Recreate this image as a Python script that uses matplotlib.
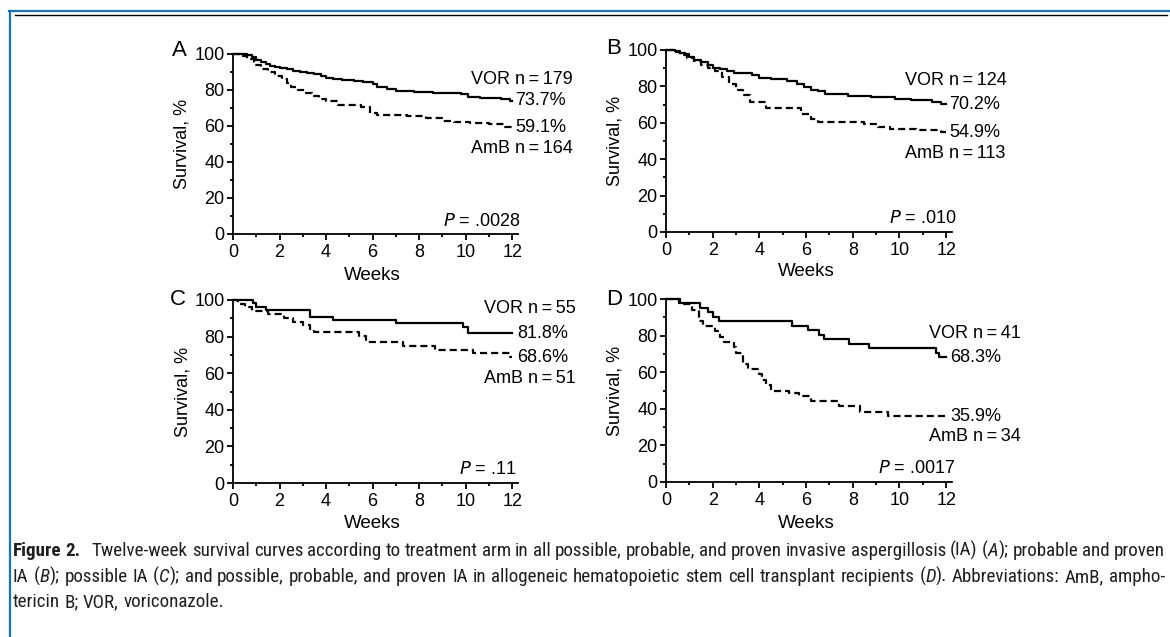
import matplotlib
matplotlib.use("Agg")
import matplotlib.pyplot as plt
from matplotlib import font_manager as fm
from matplotlib.lines import Line2D
from matplotlib.ticker import MultipleLocator
from matplotlib.transforms import IdentityTransform

W, H, DPI = 1170, 637, 100

# ---------------- data ----------------
panel_letters = ["A", "B", "C", "D"]
week_ticks = [0, 2, 4, 6, 8, 10, 12]
surv_ticks = [0, 20, 40, 60, 80, 100]
follow_up_end = 12

a_vor_t = [0, 0.6, 0.8, 1.0, 1.2, 1.4, 1.6, 1.8, 2.0, 2.3, 2.6, 2.9, 3.2, 3.5, 3.8, 4.0,
           4.3, 4.7, 5.2, 5.6, 6.0, 6.2, 6.6, 7.0, 7.8, 8.6, 9.8, 10.1, 10.6, 11.5, 11.9]
a_vor_s = [100, 99.4, 98.3, 96.6, 95.5, 94.4, 93.3, 92.7, 92.2, 91.6, 90.5, 89.9, 89.4, 88.8,
           87.7, 86.6, 86.0, 85.5, 84.9, 84.4, 83.2, 81.6, 80.4, 79.3, 78.8, 78.2, 77.6, 76.0,
           75.4, 74.9, 73.7]
a_amb_t = [0, 0.3, 0.6, 0.9, 1.2, 1.5, 1.8, 2.1, 2.3, 2.5, 2.8, 3.1, 3.4, 3.7, 4.0, 4.5,
           5.5, 5.9, 6.2, 7.5, 8.3, 9.0, 9.5, 10.2, 11.0, 11.7]
a_amb_s = [100, 98.8, 97.0, 93.9, 91.5, 89.6, 87.8, 86.0, 83.5, 81.7, 79.9, 78.0, 76.2, 75.0,
           73.8, 71.3, 70.1, 67.1, 65.9, 65.2, 64.0, 62.8, 62.2, 61.6, 61.0, 59.1]

b_vor_t = [0, 0.4, 0.6, 0.8, 1.0, 1.2, 1.5, 1.8, 2.0, 2.3, 2.6, 2.9, 3.7, 4.0, 4.5, 5.2,
           5.6, 5.9, 6.2, 6.5, 6.8, 7.8, 8.8, 9.8, 10.5, 11.4, 11.8]
b_vor_s = [100, 99.2, 98.4, 97.6, 96.0, 94.4, 93.5, 91.9, 90.3, 89.5, 88.7, 87.1, 86.3, 84.7,
           83.9, 83.1, 81.5, 79.8, 78.2, 77.4, 75.8, 74.9, 74.1, 73.3, 72.5, 71.7, 70.2]
b_amb_t = [0, 0.3, 0.6, 0.9, 1.2, 1.5, 1.8, 2.1, 2.4, 2.7, 3.0, 3.3, 3.6, 4.3, 5.8, 6.2,
           6.5, 8.5, 9.1, 9.6, 10.7, 11.8]
b_amb_s = [100, 99.1, 97.3, 95.5, 93.8, 92.0, 90.2, 88.5, 85.0, 81.4, 77.9, 75.2, 71.7, 68.1,
           64.6, 61.9, 60.2, 59.3, 57.5, 56.6, 55.8, 54.9]

c_vor_t = [0, 0.85, 1.0, 1.4, 3.3, 4.3, 7.0, 9.9, 10.1]
c_vor_s = [100, 98.2, 96.4, 94.5, 90.9, 89.1, 87.3, 85.5, 81.8]
c_amb_t = [0, 0.2, 0.5, 0.8, 1.5, 2.2, 2.6, 3.0, 3.3, 3.5, 5.4, 5.7, 7.3, 8.7, 10.3, 11.9]
c_amb_s = [100, 98.0, 96.1, 94.1, 92.2, 90.2, 88.2, 86.3, 84.3, 82.4, 80.4, 77.3, 74.9, 72.7,
           70.9, 68.6]

d_vor_t = [0, 0.57, 1.46, 1.82, 2.03, 2.25, 5.39, 6.1, 6.54, 6.75, 7.83, 8.68, 11.55, 11.69]
d_vor_s = [100, 97.6, 95.1, 92.7, 90.2, 87.8, 85.4, 82.9, 80.5, 78.0, 75.6, 73.2, 70.7, 68.3]
d_amb_t = [0, 0.6, 1.1, 1.4, 1.6, 2.1, 2.3, 2.5, 2.9, 3.0, 3.3, 3.5, 4.0, 4.1, 4.3, 4.5,
           5.25, 5.7, 6.2, 7.4, 8.3, 9.5]
d_amb_s = [100, 97.1, 94.1, 88.2, 85.3, 82.4, 79.4, 76.5, 73.5, 70.6, 64.7, 61.8, 58.8, 55.9,
           52.9, 50.0, 48.5, 47.1, 44.1, 41.8, 38.5, 35.9]

n_vor = [179, 124, 55, 41]
n_amb = [164, 113, 51, 34]
final_vor = ["73.7%", "70.2%", "81.8%", "68.3%"]
final_amb = ["59.1%", "54.9%", "68.6%", "35.9%"]
p_values = [".0028", ".010", ".11", ".0017"]

vor_times = [a_vor_t, b_vor_t, c_vor_t, d_vor_t]
vor_surv = [a_vor_s, b_vor_s, c_vor_s, d_vor_s]
amb_times = [a_amb_t, b_amb_t, c_amb_t, d_amb_t]
amb_surv = [a_amb_s, b_amb_s, c_amb_s, d_amb_s]

# ---------------- layout (pixels) ----------------
# (left, top(y=100), right(x=12.25), bottom(y=0))
axes_px = [(233, 53.5, 518, 234), (666, 50, 952, 232),
           (233, 300, 518, 483), (666, 299, 952, 482)]
letter_px = [(179, 51), (614, 49), (178, 299), (614, 299)]
ylabel_px = [182, 615, 183, 615]
xlabel_py = [276, 272, 523, 523]
# label positions in data coordinates: (n-label x, pct x, y VOR n, y VOR pct, y AmB pct, y AmB n)
ann_pos = [(10.24, 12.13, 85.5, 73.7, 59.1, 47.5),
           (10.24, 12.13, 83.0, 70.2, 54.9, 43.0),
           (10.80, 12.20, 95.5, 81.8, 68.6, 57.0),
           (11.25, 12.17, 81.0, 68.3, 35.9, 25.0)]
p_pos = [(12.34, 7.0), (12.45, 7.6), (12.2, 7.6), (12.4, 7.2)]

plt.rcParams["font.family"] = ["Liberation Sans", "DejaVu Sans"]
fig = plt.figure(figsize=(W / DPI, H / DPI), dpi=DPI)
fig.patch.set_facecolor("white")

FS = 13
for i in range(4):
    l, t, r, b = axes_px[i]
    ax = fig.add_axes([l / W, 1 - b / H, (r - l) / W, (b - t) / H])
    ax.set_xlim(0, 12.25)
    ax.set_ylim(0, 100)
    for s in ("top", "right"):
        ax.spines[s].set_visible(False)
    for s in ("left", "bottom"):
        ax.spines[s].set_linewidth(1.3)
    ax.set_xticks(week_ticks)
    ax.set_yticks(surv_ticks)
    ax.xaxis.set_minor_locator(MultipleLocator(1))
    ax.yaxis.set_minor_locator(MultipleLocator(10))
    ax.tick_params(which="major", length=4, width=1.3, labelsize=FS, pad=2)
    ax.tick_params(which="minor", length=2.2, width=1.3)
    ax.tick_params(axis="x", which="major", pad=3)
    ax.patch.set_alpha(0)

    tv = list(vor_times[i]) + [follow_up_end]
    sv = list(vor_surv[i]) + [vor_surv[i][-1]]
    ta = list(amb_times[i]) + [follow_up_end]
    sa = list(amb_surv[i]) + [amb_surv[i][-1]]
    ax.step(tv, sv, where="post", color="black", lw=1.6, clip_on=False)
    ax.step(ta, sa, where="post", color="black", lw=1.6, clip_on=False,
            linestyle=(0, (3.2, 1.8)))

    nx, px, yv, yvp, yap, ya = ann_pos[i]
    ax.text(nx, yv, f"VOR n\u2009=\u2009{n_vor[i]}", fontsize=FS, ha="left", va="center", clip_on=False)
    ax.text(px, yvp, final_vor[i], fontsize=FS, ha="left", va="center", clip_on=False)
    ax.text(px, yap, final_amb[i], fontsize=FS, ha="left", va="center", clip_on=False)
    ax.text(nx, ya, f"AmB n\u2009=\u2009{n_amb[i]}", fontsize=FS, ha="left", va="center", clip_on=False)
    ppx, ppy = p_pos[i]
    ax.text(ppx, ppy, "$\\it{P}$ = " + p_values[i], fontsize=FS, ha="right", va="center",
            clip_on=False)

    lx, ly = letter_px[i]
    fig.text(lx / W, 1 - ly / H, panel_letters[i], fontsize=16, ha="center", va="center")
    fig.text(ylabel_px[i] / W, 1 - ((t + b) / 2) / H, "Survival, %", fontsize=FS,
             rotation=90, ha="center", va="center")
    x0 = l + (12 / 12.25) * (r - l) / 2
    fig.text(x0 / W, 1 - xlabel_py[i] / H, "Weeks", fontsize=13.5, ha="center", va="center")

# ---------------- frame lines ----------------
blue = "#1273c8"
fig.add_artist(Line2D([9.8 / W, 9.8 / W], [0, 1 - 10.5 / H], transform=fig.transFigure,
                      color=blue, lw=1.6))
fig.add_artist(Line2D([9 / W, 1], [1 - 11 / H, 1 - 11 / H], transform=fig.transFigure,
                      color=blue, lw=1.6))
fig.add_artist(Line2D([15 / W, 1167 / W], [1 - 15.3 / H, 1 - 15.3 / H],
                      transform=fig.transFigure, color="black", lw=1.0))

# ---------------- caption ----------------
def pick_caption_font():
    names = {f.name for f in fm.fontManager.ttflist}
    for n in ["Liberation Sans Narrow", "Roboto Condensed", "Open Sans Condensed",
              "Noto Sans Condensed"]:
        if n in names:
            return n, "normal"
    for fam in ["Roboto", "Noto Sans", "DejaVu Sans", "Open Sans"]:
        for f in fm.fontManager.ttflist:
            if f.name == fam and str(f.stretch) in ("condensed", "semi-condensed", "75", "87"):
                return fam, "condensed"
    return "Liberation Sans", "normal"

cap_family, cap_stretch = pick_caption_font()
renderer = fig.canvas.get_renderer()
txt_color = "#1e1e1e"


def make_text(s, style, fs):
    return fig.text(0, 0, s, fontsize=fs, family=[cap_family, "DejaVu Sans"], stretch=cap_stretch,
                    fontweight="bold" if style == "b" else "normal",
                    fontstyle="italic" if style == "i" else "normal",
                    transform=IdentityTransform(), ha="left", va="baseline", color=txt_color)


def measure(s, style, fs):
    t = make_text(s, style, fs)
    w = t.get_window_extent(renderer).width
    t.remove()
    return w


def parse(line):
    words = []
    for w in line.split(" "):
        runs = []
        buf = ""
        style = "n"
        for c in w:
            if c == "^":  # italic toggle
                if buf:
                    runs.append((buf, style))
                buf = ""
                style = "i" if style == "n" else "n"
            else:
                buf += c
        if buf:
            runs.append((buf, style))
        words.append(runs)
    return words


line1 = ("Twelve-week survival curves according to treatment arm in all possible, probable, "
         "and proven invasive aspergillosis (IA) (^A^); probable and proven")
line2 = ("IA (^B^); possible IA (^C^); and possible, probable, and proven IA in allogeneic "
         "hematopoietic stem cell transplant recipients (^D^). Abbreviations: AmB, ampho-")
line3 = "tericin B; VOR, voriconazole."

X0, X1 = 13, 1165
lines = [([[("Figure", "b")], [("2.", "b")]] + parse(line1), True, 556),
         (parse(line2), True, 582),
         (parse(line3), False, 607)]


def word_w(word, fs):
    return sum(measure(s, st, fs) for s, st in word)


fs0 = 10.0
space0 = measure("x x", "n", fs0) - measure("xx", "n", fs0)
gap_extra_0 = 1.6 * space0
ws = [word_w(w, fs0) for w in lines[0][0]]
nat = sum(ws) + space0 * (len(ws) - 1) + gap_extra_0
fs = fs0 * (X1 - X0) / nat
space = measure("x x", "n", fs) - measure("xx", "n", fs)
gap_extra = 1.6 * space

for words, justify, base in lines:
    wl = [word_w(w, fs) for w in words]
    extra = gap_extra if words[0] == [("Figure", "b")] else 0
    if justify:
        sp = (X1 - X0 - sum(wl) - extra) / (len(wl) - 1)
    else:
        sp = space
    x = X0
    for j, (word, wwid) in enumerate(zip(words, wl)):
        xx = x
        for s, st in word:
            t = make_text(s, st, fs)
            t.set_position((xx, H - base))
            xx += measure(s, st, fs)
        x += wwid + sp
        if j == 1 and extra:
            x += extra

fig.savefig("out.png", dpi=DPI, facecolor="white")
